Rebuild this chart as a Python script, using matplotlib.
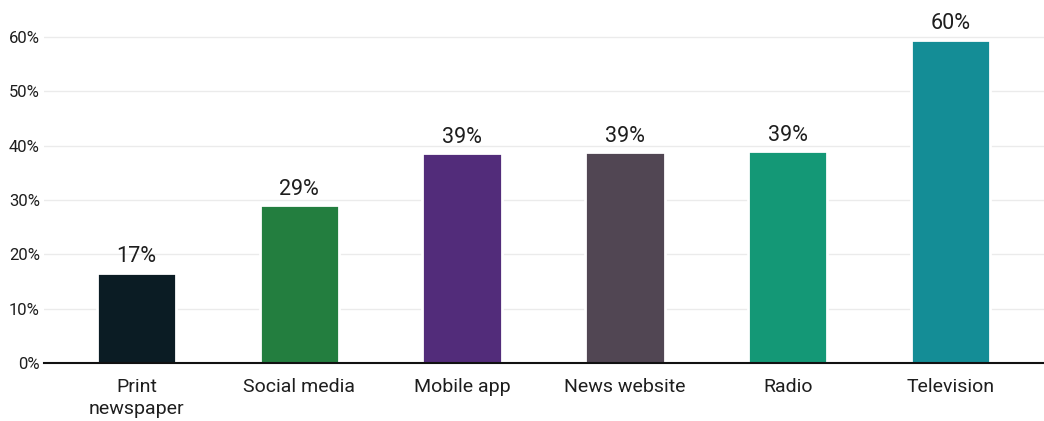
import matplotlib
matplotlib.use("Agg")
import matplotlib.pyplot as plt
from matplotlib.ticker import FuncFormatter

categories = ["Print\nnewspaper", "Social media", "Mobile app", "News website", "Radio", "Television"]
values = [16.6, 29.0, 38.6, 38.8, 39.0, 59.5]
colors = ["#0b1c24", "#237e3f", "#522c7a", "#514653", "#149876", "#148d96"]
y_ticks = [0, 10, 20, 30, 40, 50, 60]

plt.rcParams["font.family"] = ["Roboto", "DejaVu Sans"]

fig = plt.figure(figsize=(10.44, 4.21), dpi=100)
ax = fig.add_axes([44 / 1044, 1 - 363 / 421, 1000 / 1044, (363 - 37) / 421 * 70 / 60])

x = list(range(len(categories)))
bars = ax.bar(x, values, width=0.487, color=colors, edgecolor="white",
              linewidth=2, zorder=3)

for rect, v in zip(bars, values):
    ax.annotate(f"{v:.0f}%", (rect.get_x() + rect.get_width() / 2, v),
                xytext=(0, 4), textcoords="offset points",
                ha="center", va="bottom", fontsize=15.5, color="#1e1e1e")

ax.set_xlim(-0.567, 5.573)
ax.set_ylim(0, 70)
ax.set_yticks(y_ticks)
ax.yaxis.set_major_formatter(FuncFormatter(lambda v, p: f"{v:.0f}%"))
ax.set_xticks(x)
ax.set_xticklabels(categories, fontsize=14, color="#1e1e1e", linespacing=1.3)
ax.tick_params(axis="y", length=0, pad=3, labelsize=12, labelcolor="#1e1e1e")
ax.tick_params(axis="x", length=0, pad=11)

ax.grid(axis="y", color="#ebebeb", linewidth=1.0, zorder=0)
for side in ["top", "right", "left"]:
    ax.spines[side].set_visible(False)
ax.spines["bottom"].set_color("#111111")
ax.spines["bottom"].set_linewidth(1.5)
ax.spines["bottom"].set_zorder(4)

fig.savefig("out.png", dpi=100)
